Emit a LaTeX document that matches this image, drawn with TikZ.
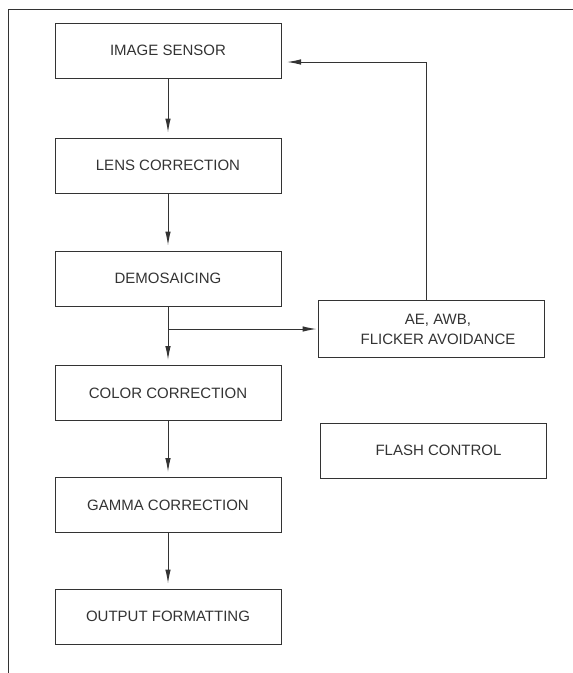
\documentclass[tikz,border=0pt]{standalone}
\usepackage{fontspec}
\setmainfont{Liberation Sans}
\usetikzlibrary{arrows.meta}
\definecolor{inkgray}{HTML}{333333}

\tikzset{
	stage/.style={draw=inkgray, line width=1pt, rectangle, minimum width=226pt, minimum height=55pt, inner sep=0pt, text=inkgray, font=\fontsize{15}{20}\selectfont, align=center},
	flow/.style={draw=inkgray, line width=1pt, -{Latex[length=14pt,width=5.5pt]}, shorten >=5pt}
}

\begin{document}
\begin{tikzpicture}[x=1pt, y=-1pt]
			%%%%% START %%%%%
			
			\useasboundingbox (0, 0) rectangle (573, 673);
			\draw[inkgray, line width=1pt] (8, 673) -- (8, 9.5) -- (573, 9.5);
			
			\node[stage] (sensor) at (168, 50.5) {IMAGE SENSOR};
			\node[stage] (lens) at (168, 165.5) {LENS CORRECTION};
			\node[stage] (demo) at (168, 278.5) {DEMOSAICING};
			\node[stage] (color) at (168, 393) {COLOR CORRECTION};
			\node[stage] (gamma) at (168, 505) {GAMMA CORRECTION};
			\node[stage] (output) at (168, 616.5) {OUTPUT FORMATTING};
			
			\node[stage, minimum height=57pt] (ae) at (431, 329) {\hspace*{14pt}AE, AWB,\\\hspace*{14pt}FLICKER AVOIDANCE};
			\node[stage] (flash) at (433.5, 450.5) {\hspace*{10pt}FLASH CONTROL};
			
			\draw[flow] (sensor.south) -- (lens.north);
			\draw[flow] (lens.south) -- (demo.north);
			\draw[flow] (demo.south) -- (color.north);
			\draw[flow] (color.south) -- (gamma.north);
			\draw[flow] (gamma.south) -- (output.north);
			
			\coordinate (branch) at (168, 329);
			\draw[flow, shorten >=1pt] (branch) -- (ae.west);
			
			\coordinate (feedback) at (287, 62);
			\draw[flow, shorten >=0pt] ([xshift=-5pt]ae.north) |- (feedback);
			
			%%%%% END %%%%%
\end{tikzpicture}
\end{document}
